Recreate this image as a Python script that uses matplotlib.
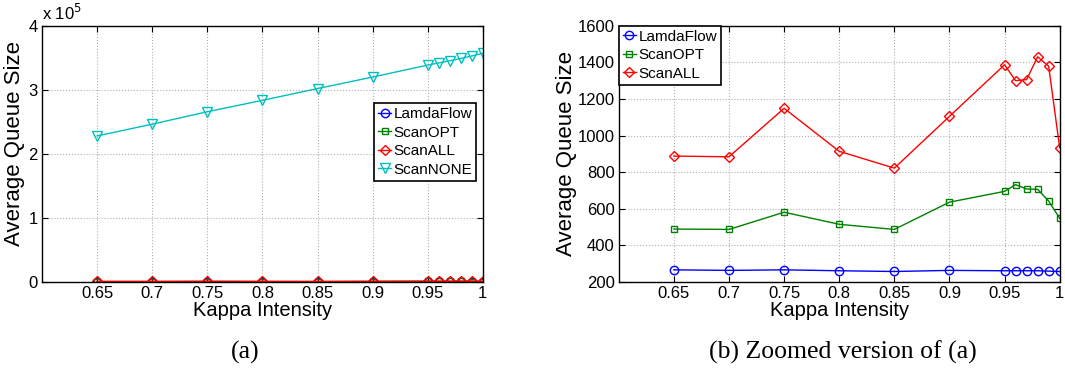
import matplotlib
matplotlib.use('Agg')
from matplotlib import pyplot as plt
from matplotlib.ticker import FuncFormatter

plt.rcParams['font.family'] = ['Liberation Sans', 'DejaVu Sans']

# Kappa intensity values on the x axis
kappa = [0.65, 0.7, 0.75, 0.8, 0.85, 0.9, 0.95, 0.96, 0.97, 0.98, 0.99, 1.0]
xtick_vals = [0.65, 0.7, 0.75, 0.8, 0.85, 0.9, 0.95, 1.0]
xtick_labels = ['0.65', '0.7', '0.75', '0.8', '0.85', '0.9', '0.95', '1']

# Average queue size per scheme
lamdaflow = [266, 263, 266, 261, 257, 263, 261, 261, 261, 261, 259, 257]
scan_opt = [489, 487, 581, 515, 487, 636, 695, 732, 708, 706, 642, 548]
scan_all = [888, 884, 1149, 914, 822, 1105, 1387, 1300, 1306, 1431, 1379, 934]
scan_none = [228000, 246400, 265800, 283600, 302000, 320000, 338700, 342000,
             345500, 349000, 353000, 357000]

styles = {
    'LamdaFlow': dict(color='b', marker='o', markersize=6),
    'ScanOPT': dict(color=(0, 0.5, 0), marker='s', markersize=5),
    'ScanALL': dict(color='r', marker='D', markersize=5.5),
    'ScanNONE': dict(color=(0, 0.75, 0.75), marker='v', markersize=7),
}


def draw_series(ax, name, values):
    st = styles[name]
    ax.plot(kappa, values, linestyle='-', linewidth=1.0, color=st['color'],
            marker=st['marker'], markersize=st['markersize'],
            markerfacecolor='none', markeredgecolor=st['color'],
            markeredgewidth=1.0, label=name)


def style_axes(ax):
    ax.set_xlim(0.6, 1.0)
    ax.set_xticks(xtick_vals)
    ax.set_xticklabels(xtick_labels)
    ax.grid(True, linestyle=':', color='#b0b0b0', linewidth=0.8)
    ax.tick_params(direction='in', top=True, right=True, labelsize=12,
                   length=4, width=0.8, pad=3)
    for sp in ax.spines.values():
        sp.set_linewidth(1.0)
    ax.set_xlabel('Kappa Intensity', fontsize=14.5, labelpad=0)
    ax.set_ylabel('Average Queue Size', fontsize=16)


def add_legend(ax, **kw):
    leg = ax.legend(fontsize=11, numpoints=1, handlelength=0.9,
                    handletextpad=0.15, borderpad=0.25, labelspacing=0.3,
                    borderaxespad=0, fancybox=False, framealpha=1, **kw)
    leg.get_frame().set_edgecolor('black')
    leg.get_frame().set_linewidth(1.2)
    return leg


fig = plt.figure(figsize=(10.65, 3.69), dpi=100)

# (a) all four schemes
ax1 = fig.add_axes([0.0394, 0.236, 0.414, 0.694])
draw_series(ax1, 'LamdaFlow', lamdaflow)
draw_series(ax1, 'ScanOPT', scan_opt)
draw_series(ax1, 'ScanALL', scan_all)
draw_series(ax1, 'ScanNONE', scan_none)
style_axes(ax1)
ax1.set_ylim(0, 400000)
ax1.set_yticks([0, 100000, 200000, 300000, 400000])
ax1.yaxis.set_major_formatter(FuncFormatter(lambda v, p: '%d' % round(v / 1e5)))
ax1.yaxis.set_label_coords(-0.039, 0.54)
ax1.text(0.0, 1.01, 'x 10$^5$', transform=ax1.transAxes, fontsize=12,
         ha='left', va='bottom')
add_legend(ax1, loc='upper right', bbox_to_anchor=(0.985, 0.698))

# (b) zoom on the three lower schemes
ax2 = fig.add_axes([0.581, 0.236, 0.414, 0.694])
draw_series(ax2, 'LamdaFlow', lamdaflow)
draw_series(ax2, 'ScanOPT', scan_opt)
draw_series(ax2, 'ScanALL', scan_all)
style_axes(ax2)
ax2.set_ylim(200, 1600)
ax2.set_yticks(range(200, 1601, 200))
ax2.yaxis.set_label_coords(-0.095, 0.5)
add_legend(ax2, loc='upper left', bbox_to_anchor=(0.0, 1.0))

# captions under each panel
fig.text(245 / 1065, 1 - 352 / 369, '(a)', family='Liberation Serif',
         fontsize=18.5, ha='center', va='center')
fig.text(843 / 1065, 1 - 352 / 369, '(b) Zoomed version of (a)',
         family='Liberation Serif', fontsize=18.5, ha='center', va='center')

fig.savefig('out.png', dpi=100)
